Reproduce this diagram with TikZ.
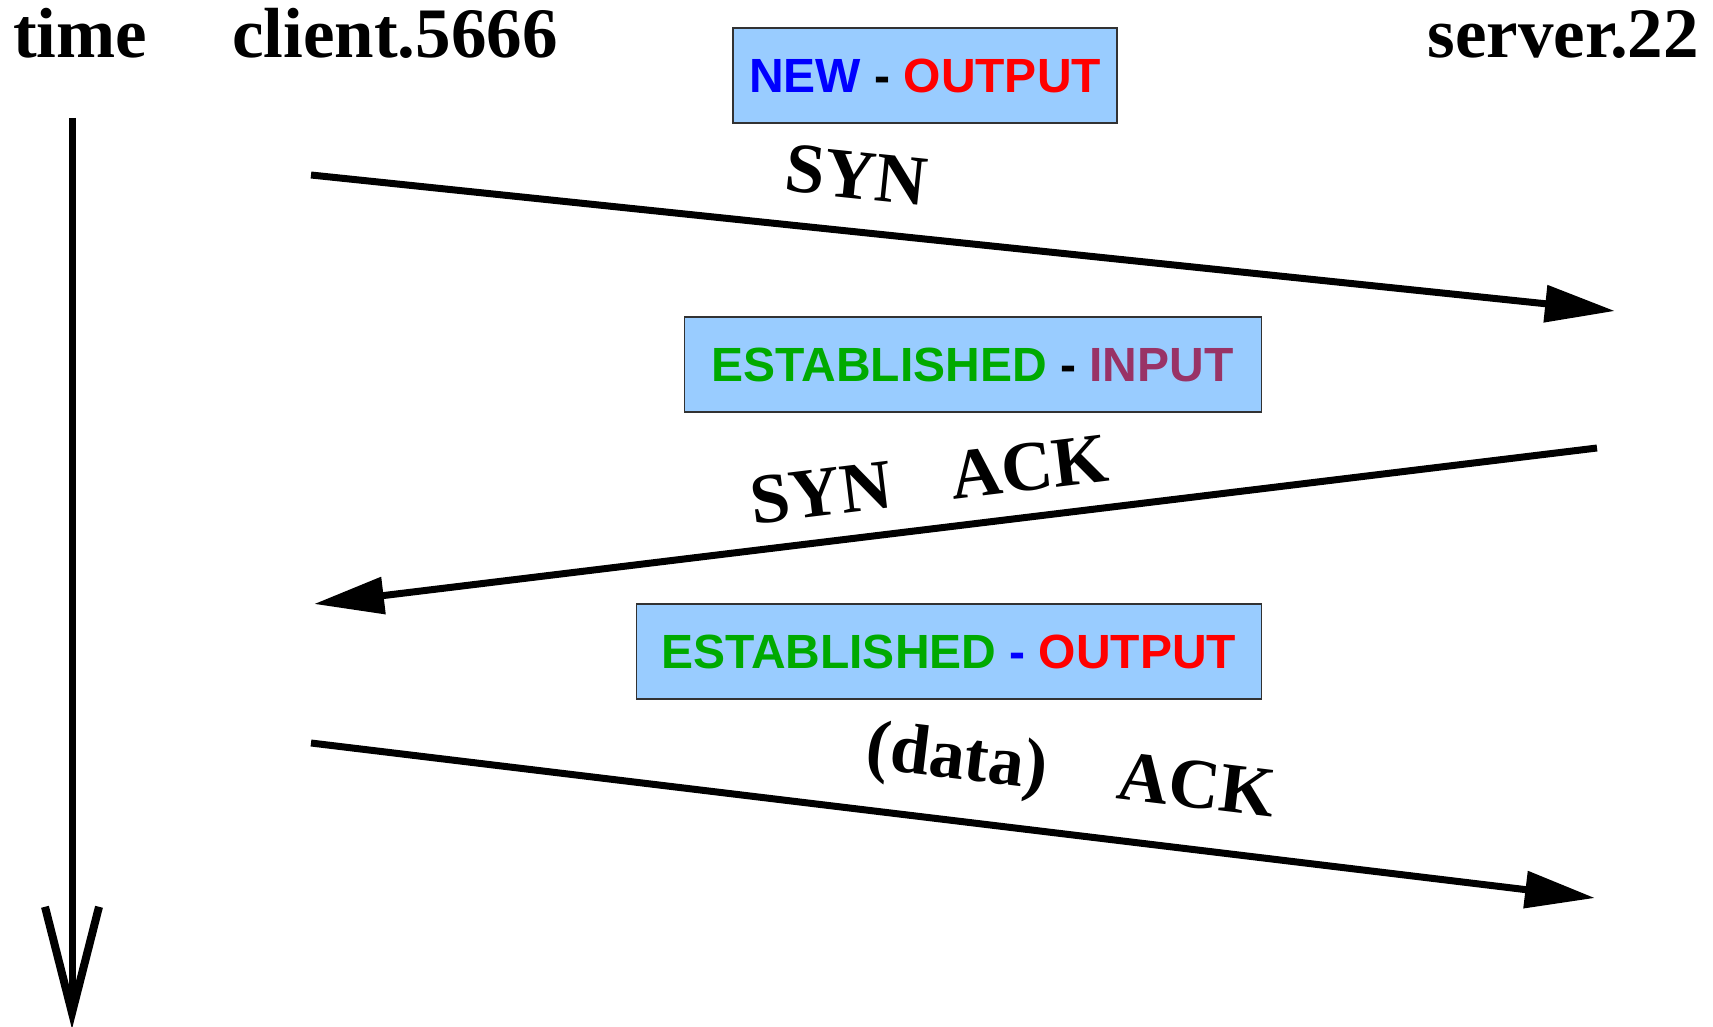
\documentclass[tikz,border=0pt]{standalone}
\usepackage{fontspec}
\setmainfont{Liberation Serif}
\newfontfamily\boxfont{Liberation Sans}
\usetikzlibrary{arrows.meta}

\definecolor{boxblue}{RGB}{153,204,255}
\definecolor{boxline}{RGB}{50,50,50}
\definecolor{stnew}{RGB}{0,0,255}
\definecolor{stout}{RGB}{255,0,0}
\definecolor{stest}{RGB}{0,170,0}
\definecolor{stin}{RGB}{153,51,102}

\begin{document}
\begin{tikzpicture}[x = 1pt, y = -1pt, > = {Triangle[length = 70pt, width = 36pt]},
	msg/.style = {line width = 7pt, ->},
	host/.style = {font = \fontsize{71}{80}\selectfont\bfseries, inner sep = 0pt},
	lbl/.style = {font = \fontsize{71}{80}\selectfont\bfseries, inner sep = 0pt, sloped},
	statebox/.style = {draw = boxline, line width = 1.5pt, fill = boxblue, minimum height = 95pt, inner xsep = 0pt, font = \fontsize{48}{56}\selectfont\boxfont\bfseries}]

	% Frame
	
	\useasboundingbox (0, 0) rectangle (1713, 1027);
	
	% Hosts and time axis
	
	\node [host, anchor = base west] (time) at (13, 58) {time};
	\node [host, anchor = base west] (client) at (232, 58) {client.5666};
	\node [host, anchor = base east] (server) at (1699, 58) {server.22};
	
	\coordinate (t top) at (72, 118);
	\coordinate (t end) at (72, 1029);
	\draw [line width = 7pt, -{Straight Barb[length = 106pt, width = 54pt, line width = 8pt]}] (t top) -- (t end);
	
	% Conntrack states
	
	\node [statebox, minimum width = 384pt] (new) at (925, 75.5) {\textcolor{stnew}{NEW} - \textcolor{stout}{OUTPUT}};
	\node [statebox, minimum width = 577pt, anchor = east] (estin) at (1262, 364.5) {\textcolor{stest}{ESTABLISHED} - \textcolor{stin}{INPUT}};
	\node [statebox, minimum width = 625pt, anchor = east] (estout) at (1262, 651.5) {\textcolor{stest}{ESTABLISHED} \textcolor{stnew}{-} \textcolor{stout}{OUTPUT}};
	
	% Handshake
	
	\coordinate (syn a) at (311, 175);
	\coordinate (syn b) at (1615, 311);
	\coordinate (synack a) at (1597, 448);
	\coordinate (synack b) at (314, 604);
	\coordinate (ack a) at (311, 743);
	\coordinate (ack b) at (1595, 898);
	
	\draw [msg] (syn a) -- (syn b) node [lbl, pos = 0.414, above = 29pt] (syn) {SYN};
	\draw [msg] (synack a) -- (synack b) node [lbl, pos = 0.516, above = 22pt] (synack) {SYN\hspace{60pt}ACK};
	\draw [msg] (ack a) -- (ack b) node [lbl, pos = 0.586, above = 23pt] (ack) {(data)\hspace{71pt}ACK};
	
\end{tikzpicture}
\end{document}
